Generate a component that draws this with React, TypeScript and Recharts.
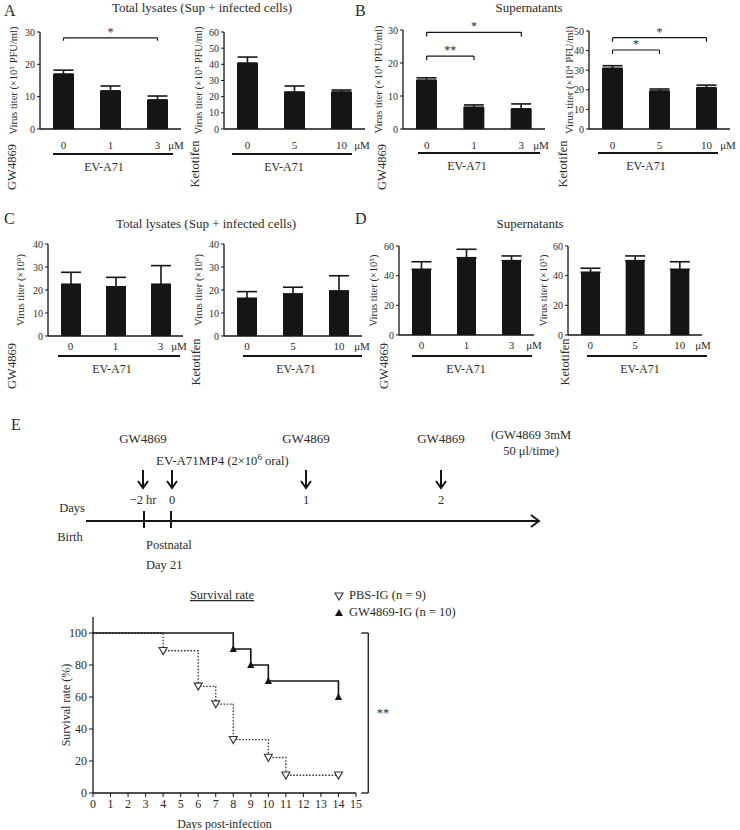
import React from "react";
import {
  BarChart,
  Bar,
  XAxis,
  YAxis,
  ErrorBar,
  ReferenceLine,
  LineChart,
  Line,
} from "recharts";

const FONT = '"Liberation Serif", "DejaVu Serif", serif';
const INK = "#151515";
const TEXT = "#2b2b2b";

// doses (µM)
const gwDoses = ["0", "1", "3"];
const ketoDoses = ["0", "5", "10"];

// A: total lysates, ×10^5 PFU/ml
const aGwTiter = [17, 11.8, 9];
const aGwErr = [1.2, 1.5, 1.2];
const aKetoTiter = [40.8, 22.9, 22.9];
const aKetoErr = [3.7, 3.7, 1.2];

// B: supernatants, ×10^4 PFU/ml
const bGwTiter = [14.8, 6.6, 6.1];
const bGwErr = [0.7, 0.7, 1.5];
const bKetoTiter = [31, 19.4, 21.1];
const bKetoErr = [1.3, 1.0, 1.3];

// C: total lysates, ×10^6
const cGwTiter = [22.5, 21.4, 22.5];
const cGwErr = [5.2, 4.1, 8.1];
const cKetoTiter = [16.4, 18.3, 19.6];
const cKetoErr = [2.9, 2.9, 6.6];

// D: supernatants, ×10^5
const dGwTiter = [44.3, 52.1, 50.1];
const dGwErr = [5.1, 5.7, 3.2];
const dKetoTiter = [42.3, 50.1, 44.3];
const dKetoErr = [2.7, 3.2, 5.1];

const ticks30 = [0, 10, 20, 30];
const ticks40 = [0, 10, 20, 30, 40];
const ticks50 = [0, 10, 20, 30, 40, 50];
const ticks60by10 = [0, 10, 20, 30, 40, 50, 60];
const ticks60by20 = [0, 20, 40, 60];

type Bracket = { from: string; to: string; y: number; foot: number; mark: string };

const aGwBrackets: Bracket[] = [{ from: "0", to: "3", y: 28.2, foot: 27.3, mark: "*" }];
const bGwBrackets: Bracket[] = [
  { from: "0", to: "3", y: 29.3, foot: 28, mark: "*" },
  { from: "0", to: "1", y: 22.1, foot: 20.8, mark: "**" },
];
const bKetoBrackets: Bracket[] = [
  { from: "0", to: "10", y: 46.6, foot: 44.5, mark: "*" },
  { from: "0", to: "5", y: 40.3, foot: 38.3, mark: "*" },
];

// E: survival
const dayTicks = [0, 1, 2, 3, 4, 5, 6, 7, 8, 9, 10, 11, 12, 13, 14, 15];
const rateTicks = [0, 20, 40, 60, 80, 100];
const gwDays = [0, 8, 9, 10, 14];
const gwSurvival = [100, 90, 80, 70, 60];
const pbsDays = [0, 4, 6, 7, 8, 10, 11, 14];
const pbsSurvival = [100, 88.9, 66.7, 55.6, 33.3, 22.2, 11.1, 11.1];

const timelineDoses = [
  { x: 143, drug: "GW4869", day: "\u22122 hr" },
  { x: 172, drug: "", day: "0" },
  { x: 306, drug: "GW4869", day: "1" },
  { x: 441, drug: "GW4869", day: "2" },
];

type PanelProps = {
  left: number;
  top: number;
  width: number;
  height: number;
  yw: number;
  mt: number;
  mr: number;
  barSize: number;
  tickGap: number;
  labelOffset: number;
  doses: string[];
  titer: number[];
  err: number[];
  domain: [number, number];
  ticks: number[];
  yLabel: string;
  brackets?: Bracket[];
  drug: string;
  drugX: number;
  drugY: number;
  unitX: number;
  unitY: number;
  rule: [number, number, number];
  evX: number;
};

function TiterPanel(p: PanelProps) {
  const rows = p.doses.map((d, i) => ({ dose: d, titer: p.titer[i], err: [0, p.err[i]] }));
  const textStyle = { fontFamily: FONT, fill: TEXT };
  return (
    <>
      <div style={{ position: "absolute", left: p.left, top: p.top }}>
        <BarChart
          width={p.width}
          height={p.height}
          data={rows}
          margin={{ top: p.mt, right: p.mr, bottom: 0, left: 0 }}
        >
          <XAxis
            dataKey="dose"
            height={30}
            tickLine={false}
            tickSize={0}
            tickMargin={p.tickGap}
            axisLine={{ stroke: INK, strokeWidth: 1.3 }}
            tick={{ ...textStyle, fontSize: 11 }}
          />
          <YAxis
            domain={p.domain}
            ticks={p.ticks}
            width={p.yw}
            tickSize={3}
            tickMargin={2}
            axisLine={{ stroke: INK, strokeWidth: 1.3 }}
            tickLine={{ stroke: INK }}
            tick={{ ...textStyle, fontSize: 10 }}
            label={{
              value: p.yLabel,
              angle: -90,
              position: "insideLeft",
              offset: p.labelOffset,
              style: { textAnchor: "middle", fontFamily: FONT, fill: TEXT, fontSize: 10.5 },
            }}
          />
          <Bar dataKey="titer" fill={INK} barSize={p.barSize} isAnimationActive={false}>
            <ErrorBar dataKey="err" direction="y" width={10} stroke={INK} strokeWidth={1.6} />
          </Bar>
          {(p.brackets || []).flatMap((b, i) => [
            <ReferenceLine
              key={`h${i}`}
              segment={[{ x: b.from, y: b.y }, { x: b.to, y: b.y }]}
              stroke={INK}
              strokeWidth={1.2}
              ifOverflow="visible"
              label={{ value: b.mark, position: "top", offset: 2, fill: TEXT, fontSize: 12, fontFamily: FONT }}
            />,
            <ReferenceLine
              key={`l${i}`}
              segment={[{ x: b.from, y: b.y }, { x: b.from, y: b.foot }]}
              stroke={INK}
              strokeWidth={1.2}
              ifOverflow="visible"
            />,
            <ReferenceLine
              key={`r${i}`}
              segment={[{ x: b.to, y: b.y }, { x: b.to, y: b.foot }]}
              stroke={INK}
              strokeWidth={1.2}
              ifOverflow="visible"
            />,
          ])}
        </BarChart>
      </div>
      <svg
        width={740}
        height={830}
        style={{ position: "absolute", left: 0, top: 0, pointerEvents: "none" }}
      >
        <text x={p.unitX} y={p.unitY} textAnchor="middle" dominantBaseline="central" fontSize={11} {...textStyle}>
          μM
        </text>
        <line x1={p.rule[0]} x2={p.rule[1]} y1={p.rule[2]} y2={p.rule[2]} stroke={INK} strokeWidth={2} />
        <text x={p.evX} y={p.rule[2] + 13} textAnchor="middle" dominantBaseline="central" fontSize={12} {...textStyle}>
          EV-A71
        </text>
        <text
          x={p.drugX}
          y={p.drugY}
          transform={`rotate(-90 ${p.drugX} ${p.drugY})`}
          textAnchor="middle"
          dominantBaseline="central"
          fontSize={12.5}
          {...textStyle}
        >
          {p.drug}
        </text>
      </svg>
    </>
  );
}

const arrowDown = (x: number, y1: number, y2: number) => (
  <g key={`a${x}`}>
    <line x1={x} x2={x} y1={y1} y2={y2} stroke={INK} strokeWidth={2} />
    <polyline points={`${x - 5},${y2 - 7} ${x},${y2} ${x + 5},${y2 - 7}`} fill="none" stroke={INK} strokeWidth={2} />
  </g>
);

function PbsDot(props: any) {
  const { cx, cy, index } = props;
  if (index === 0 || cx == null) return <g key={`p${index}`} />;
  return (
    <path
      key={`p${index}`}
      d={`M${cx - 4},${cy - 3.2} L${cx + 4},${cy - 3.2} L${cx},${cy + 3.8} Z`}
      fill="#fff"
      stroke="#333"
      strokeWidth={1.1}
    />
  );
}

function GwDot(props: any) {
  const { cx, cy, index } = props;
  if (index === 0 || cx == null) return <g key={`g${index}`} />;
  return (
    <path key={`g${index}`} d={`M${cx},${cy - 4} L${cx + 3.6},${cy + 3} L${cx - 3.6},${cy + 3} Z`} fill={INK} />
  );
}

export default function App() {
  const pbsRows = pbsDays.map((d, i) => ({ day: d, rate: pbsSurvival[i] }));
  const gwRows = gwDays.map((d, i) => ({ day: d, rate: gwSurvival[i] }));
  const txt = { fontFamily: FONT, fill: TEXT };

  return (
    <div
      style={{
        position: "absolute",
        left: 0,
        top: 0,
        width: 740,
        height: 830,
        background: "#fff",
        fontFamily: FONT,
        overflow: "hidden",
      }}
    >
      {/* row 1 */}
      <TiterPanel
        left={0} top={20} width={200} height={139} yw={40} mt={12} mr={19} barSize={21} tickGap={12} labelOffset={13}
        doses={gwDoses} titer={aGwTiter} err={aGwErr} domain={[0, 30]} ticks={ticks30}
        yLabel="Virus titer (×10⁵ PFU/ml)" brackets={aGwBrackets}
        drug="GW4869" drugX={12} drugY={167} unitX={176} unitY={145} rule={[53, 173, 154]} evX={104}
      />
      <TiterPanel
        left={185} top={20} width={200} height={139} yw={39} mt={12} mr={20} barSize={21} tickGap={12} labelOffset={13}
        doses={ketoDoses} titer={aKetoTiter} err={aKetoErr} domain={[0, 60]} ticks={ticks60by10}
        yLabel="Virus titer (×10⁵ PFU/ml)"
        drug="Ketotifen" drugX={195} drugY={164} unitX={362} unitY={145} rule={[232, 352, 154]} evX={284}
      />
      <TiterPanel
        left={370} top={20} width={190} height={139} yw={33} mt={10} mr={15} barSize={21} tickGap={12} labelOffset={8}
        doses={gwDoses} titer={bGwTiter} err={bGwErr} domain={[0, 30]} ticks={ticks30}
        yLabel="Virus titer (×10⁴ PFU/ml)" brackets={bGwBrackets}
        drug="GW4869" drugX={382} drugY={167} unitX={541} unitY={145} rule={[418, 540, 153]} evX={467}
      />
      <TiterPanel
        left={550} top={20} width={190} height={139} yw={39} mt={11} mr={10} barSize={21} tickGap={12} labelOffset={19}
        doses={ketoDoses} titer={bKetoTiter} err={bKetoErr} domain={[0, 50]} ticks={ticks50}
        yLabel="Virus titer (×10⁴ PFU/ml)" brackets={bKetoBrackets}
        drug="Ketotifen" drugX={563} drugY={164} unitX={728} unitY={145} rule={[598, 718, 153]} evX={646}
      />

      {/* row 2 */}
      <TiterPanel
        left={0} top={230} width={200} height={136} yw={48} mt={14} mr={17} barSize={20} tickGap={6} labelOffset={20}
        doses={gwDoses} titer={cGwTiter} err={cGwErr} domain={[0, 40]} ticks={ticks40}
        yLabel="Virus titer (×10⁶)"
        drug="GW4869" drugX={12} drugY={366} unitX={179} unitY={346} rule={[58, 180, 356]} evX={112}
      />
      <TiterPanel
        left={185} top={230} width={200} height={136} yw={39} mt={14} mr={23} barSize={20} tickGap={6} labelOffset={13}
        doses={ketoDoses} titer={cKetoTiter} err={cKetoErr} domain={[0, 40]} ticks={ticks40}
        yLabel="Virus titer (×10⁶)"
        drug="Ketotifen" drugX={196} drugY={362} unitX={362} unitY={346} rule={[243, 362, 356]} evX={296}
      />
      <TiterPanel
        left={360} top={230} width={200} height={135} yw={39} mt={16} mr={26} barSize={19} tickGap={6} labelOffset={13}
        doses={gwDoses} titer={dGwTiter} err={dGwErr} domain={[0, 60]} ticks={ticks60by20}
        yLabel="Virus titer (×10⁵)"
        drug="GW4869" drugX={384} drugY={366} unitX={534} unitY={345} rule={[412, 532, 356]} evX={466}
      />
      <TiterPanel
        left={530} top={230} width={200} height={135} yw={38} mt={16} mr={28} barSize={19} tickGap={6} labelOffset={13}
        doses={ketoDoses} titer={dKetoTiter} err={dKetoErr} domain={[0, 60]} ticks={ticks60by20}
        yLabel="Virus titer (×10⁵)"
        drug="Ketotifen" drugX={565} drugY={362} unitX={703} unitY={345} rule={[587, 707, 356]} evX={640}
      />

      {/* survival */}
      <div style={{ position: "absolute", left: 45, top: 600 }}>
        <LineChart width={335} height={230} margin={{ top: 17, right: 24, bottom: 0, left: 0 }}>
          <XAxis
            type="number"
            dataKey="day"
            domain={[0, 15]}
            ticks={dayTicks}
            interval={0}
            height={37}
            tickSize={4}
            tickMargin={2}
            axisLine={{ stroke: INK, strokeWidth: 1.3 }}
            tickLine={{ stroke: INK }}
            tick={{ ...txt, fontSize: 12 }}
            label={{ value: "Days post-infection", position: "insideBottom", offset: 2, fill: TEXT, fontSize: 12, fontFamily: FONT }}
          />
          <YAxis
            type="number"
            domain={[0, 110]}
            ticks={rateTicks}
            width={48}
            tickSize={4}
            tickMargin={2}
            axisLine={{ stroke: INK, strokeWidth: 1.3 }}
            tickLine={{ stroke: INK }}
            tick={{ ...txt, fontSize: 12 }}
            label={{
              value: "Survival rate (%)",
              angle: -90,
              position: "insideLeft",
              offset: 21,
              style: { textAnchor: "middle", fontFamily: FONT, fill: TEXT, fontSize: 12 },
            }}
          />
          <Line
            data={pbsRows}
            dataKey="rate"
            type="stepAfter"
            stroke="#3a3a3a"
            strokeWidth={1.3}
            strokeDasharray="1.6 1.6"
            dot={PbsDot}
            activeDot={false}
            isAnimationActive={false}
          />
          <Line
            data={gwRows}
            dataKey="rate"
            type="stepAfter"
            stroke={INK}
            strokeWidth={1.6}
            dot={GwDot}
            activeDot={false}
            isAnimationActive={false}
          />
          <ReferenceLine segment={[{ x: 15.3, y: 100 }, { x: 15.7, y: 100 }]} stroke={INK} strokeWidth={1.3} ifOverflow="visible" />
          <ReferenceLine segment={[{ x: 15.7, y: 100 }, { x: 15.7, y: 0 }]} stroke={INK} strokeWidth={1.3} ifOverflow="visible" />
          <ReferenceLine segment={[{ x: 15.3, y: 0 }, { x: 15.7, y: 0 }]} stroke={INK} strokeWidth={1.3} ifOverflow="visible" />
        </LineChart>
      </div>

      {/* legend for survival */}
      <div style={{ position: "absolute", left: 334, top: 587, fontSize: 12.5, color: TEXT, lineHeight: "17px" }}>
        <div style={{ display: "flex", alignItems: "center", gap: 5 }}>
          <svg width={10} height={10}>
            <path d="M1,2 L9,2 L5,9 Z" fill="#fff" stroke="#333" strokeWidth={1.1} />
          </svg>
          PBS-IG (n = 9)
        </div>
        <div style={{ display: "flex", alignItems: "center", gap: 5 }}>
          <svg width={10} height={10}>
            <path d="M5,1 L9,8 L1,8 Z" fill={INK} />
          </svg>
          GW4869-IG (n = 10)
        </div>
      </div>

      {/* static annotations */}
      <svg width={740} height={830} style={{ position: "absolute", left: 0, top: 0, pointerEvents: "none" }}>
        <g {...txt} fontSize={16}>
          <text x={4} y={16}>A</text>
          <text x={355} y={16}>B</text>
          <text x={4} y={224}>C</text>
          <text x={355} y={224}>D</text>
          <text x={11} y={430}>E</text>
        </g>
        <g {...txt} fontSize={13} textAnchor="middle">
          <text x={202} y={12}>Total lysates (Sup + infected cells)</text>
          <text x={529} y={12}>Supernatants</text>
          <text x={206} y={228}>Total lysates (Sup + infected cells)</text>
          <text x={530} y={228}>Supernatants</text>
        </g>

        {/* timeline */}
        <g {...txt} fontSize={13}>
          {timelineDoses.map((d) =>
            d.drug ? (
              <text key={`d${d.x}`} x={d.x} y={443} textAnchor="middle">
                {d.drug}
              </text>
            ) : null
          )}
          <text x={156} y={465}>
            EV-A71MP4 <tspan fontSize={12.5}>(2×10</tspan>
            <tspan fontSize={9} dy={-5}>6</tspan>
            <tspan fontSize={12.5} dy={5}> oral)</tspan>
          </text>
          <text x={531} y={439} textAnchor="middle" fontSize={12.5}>(GW4869 3mM</text>
          <text x={531} y={455} textAnchor="middle" fontSize={12.5}>50 μl/time)</text>
          {timelineDoses.map((d) => (
            <text key={`t${d.x}`} x={d.x} y={504} textAnchor="middle" fontSize={12.5}>
              {d.day}
            </text>
          ))}
          <text x={72} y={512} textAnchor="middle" fontSize={12.5}>Days</text>
          <text x={70} y={541} textAnchor="middle" fontSize={12.5}>Birth</text>
          <text x={146} y={549} fontSize={12.5}>Postnatal</text>
          <text x={146} y={569} fontSize={12.5}>Day 21</text>
        </g>
        {timelineDoses.map((d) => arrowDown(d.x, 470, 488))}
        <line x1={86} x2={538} y1={521} y2={521} stroke={INK} strokeWidth={2} />
        <polyline points="531,515 539,521 531,527" fill="none" stroke={INK} strokeWidth={2} />
        <line x1={144} x2={144} y1={511} y2={528} stroke={INK} strokeWidth={2} />
        <line x1={171} x2={171} y1={511} y2={528} stroke={INK} strokeWidth={2} />

        <text x={222} y={599} textAnchor="middle" fontSize={12.5} {...txt} textDecoration="underline">
          Survival rate
        </text>
        <text x={383} y={717} textAnchor="middle" fontSize={12.5} {...txt}>
          **
        </text>
      </svg>
    </div>
  );
}
